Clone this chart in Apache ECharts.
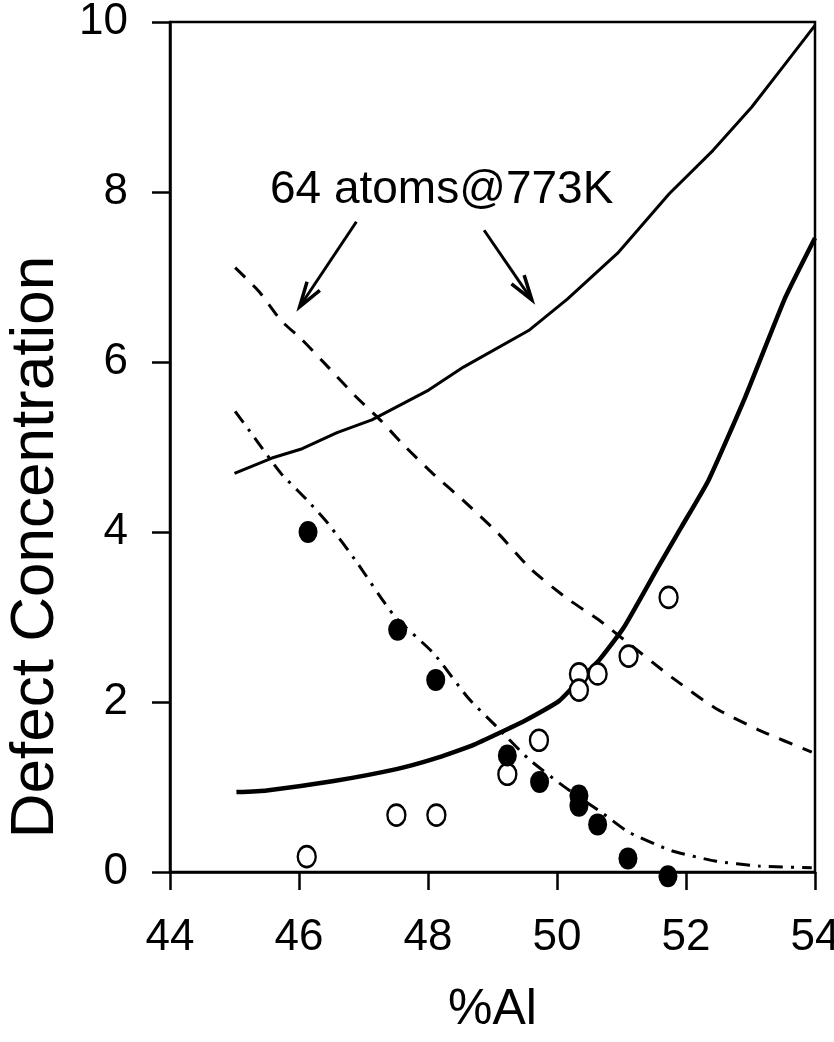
<!DOCTYPE html>
<html>
<head>
<meta charset="utf-8">
<script src="https://cdn.jsdelivr.net/npm/echarts@6/dist/echarts.min.js"></script>
<style>
  html, body { margin: 0; padding: 0; background: #fff; }
  #chart { width: 834px; height: 1042px; }
</style>
</head>
<body>
<div id="chart"></div>
<script>
// values
var xTicks = [44, 46, 48, 50, 52, 54]
var yTicks = [0, 2, 4, 6, 8, 10]

// solid curve, upper (64 atoms @ 773K)
var upperSolidX = [45.0, 45.58, 46.05, 46.59, 47.13, 48.01, 48.55, 49.56, 50.16, 50.94, 51.74, 52.42, 53.02, 53.5, 54.0]
var upperSolidY = [4.69, 4.87, 4.98, 5.17, 5.32, 5.67, 5.94, 6.37, 6.74, 7.28, 7.98, 8.49, 9.0, 9.47, 9.96]

// solid curve, lower (thick)
var lowerSolidX = [45.03, 45.5, 46.54, 47.51, 48.09, 48.69, 49.5, 50.03, 50.4, 50.65, 51.03, 51.57, 51.93, 52.35, 52.92, 53.54, 54.0]
var lowerSolidY = [0.94, 0.96, 1.07, 1.21, 1.33, 1.49, 1.78, 2.01, 2.3, 2.49, 2.87, 3.59, 4.06, 4.61, 5.59, 6.76, 7.46]

// dashed curve, upper
var upperDashX = [45.01, 45.38, 45.72, 46.05, 46.39, 46.86, 47.27, 47.6, 48.07, 48.55, 49.08, 49.6, 50.17, 50.64, 51.11, 51.78, 52.45, 53.13, 53.95]
var upperDashY = [7.11, 6.83, 6.49, 6.26, 5.99, 5.61, 5.31, 5.04, 4.69, 4.37, 3.99, 3.56, 3.21, 2.97, 2.69, 2.29, 1.93, 1.67, 1.41]

// dashed curve, lower
var lowerDashX = [45.01, 45.31, 45.72, 46.12, 46.45, 46.9, 47.48, 48.09, 48.62, 49.09, 49.56, 50.1, 50.71, 51.11, 51.78, 52.45, 53.13, 53.95]
var lowerDashY = [5.42, 5.11, 4.69, 4.38, 4.1, 3.64, 3.01, 2.57, 2.05, 1.69, 1.33, 1.01, 0.69, 0.47, 0.25, 0.13, 0.07, 0.05]

// measured points
var filledX = [46.14, 47.53, 48.12, 49.23, 49.73, 50.34, 50.34, 50.63, 51.1, 51.72]
var filledY = [4.0, 2.85, 2.26, 1.37, 1.06, 0.9, 0.78, 0.56, 0.16, -0.05]
var openX = [46.12, 47.51, 48.13, 49.23, 49.72, 50.34, 50.34, 50.63, 51.11, 51.73]
var openY = [0.18, 0.67, 0.67, 1.15, 1.55, 2.33, 2.14, 2.33, 2.54, 3.23]

// annotation: text anchor and arrows [tailX, tailY, headX, headY]
var noteText = '64 atoms@773K'
var notePos = [45.55, 8.02]
var arrows = [
  [46.89, 7.65, 46.01, 6.65],
  [48.87, 7.55, 49.61, 6.73]
]

var FONT = '"Liberation Sans", Arial, Helvetica, sans-serif'

function pairs(xs, ys) {
  return xs.map(function (x, i) { return [x, ys[i]] })
}

var myChart = echarts.init(document.getElementById('chart'))

var option = {
  backgroundColor: '#fff',
  animation: false,
  grid: {
    left: 170,
    right: 19,
    top: 22,
    bottom: 170,
    containLabel: false,
    outerBoundsMode: 'none',
    show: true,
    borderColor: '#000',
    borderWidth: 2.5
  },
  xAxis: {
    type: 'value',
    min: 44,
    max: 54,
    interval: 2,
    name: '%Al',
    nameLocation: 'middle',
    nameGap: 113,
    nameTextStyle: { fontFamily: FONT, fontSize: 50, color: '#000' },
    axisLine: { show: true, lineStyle: { color: '#000', width: 2.5 } },
    axisTick: { show: true, length: 18, lineStyle: { color: '#000', width: 2.5 } },
    axisLabel: {
      margin: 44,
      fontFamily: FONT,
      fontSize: 44,
      color: '#000',
      formatter: function (v) { return xTicks.indexOf(v) >= 0 ? String(v) : '' }
    },
    splitLine: { show: false }
  },
  yAxis: {
    type: 'value',
    min: 0,
    max: 10,
    interval: 2,
    name: 'Defect Concentration',
    nameLocation: 'middle',
    nameGap: 103,
    nameTextStyle: { fontFamily: FONT, fontSize: 62, color: '#000', padding: [0, 200, 0, 0] },
    axisLine: { show: true, lineStyle: { color: '#000', width: 2.5 } },
    axisTick: { show: true, length: 18, lineStyle: { color: '#000', width: 2.5 } },
    axisLabel: {
      margin: 42,
      fontFamily: FONT,
      fontSize: 44,
      color: '#000',
      formatter: function (v) { return yTicks.indexOf(v) >= 0 ? String(v) : '' }
    },
    splitLine: { show: false }
  },
  series: [
    {
      name: 'upper solid',
      type: 'line',
      data: pairs(upperSolidX, upperSolidY),
      showSymbol: false,
      smooth: false,
      lineStyle: { color: '#000', width: 3 }
    },
    {
      name: 'lower solid',
      type: 'line',
      data: pairs(lowerSolidX, lowerSolidY),
      showSymbol: false,
      smooth: 0.15,
      lineStyle: { color: '#000', width: 4.5 }
    },
    {
      name: 'upper dashed',
      type: 'line',
      data: pairs(upperDashX, upperDashY),
      showSymbol: false,
      smooth: 0.2,
      lineStyle: { color: '#000', width: 3, type: [14, 11] }
    },
    {
      name: 'lower dashed',
      type: 'line',
      data: pairs(lowerDashX, lowerDashY),
      showSymbol: false,
      smooth: 0.2,
      lineStyle: { color: '#000', width: 3, type: [14, 8, 3, 8] }
    },
    {
      name: 'open',
      type: 'scatter',
      clip: false,
      data: pairs(openX, openY),
      symbol: 'circle',
      symbolSize: [18, 21],
      itemStyle: { color: '#fff', borderColor: '#000', borderWidth: 2.5, opacity: 1 },
      z: 5
    },
    {
      name: 'filled',
      type: 'scatter',
      clip: false,
      data: pairs(filledX, filledY),
      symbol: 'circle',
      symbolSize: [19, 22],
      itemStyle: { color: '#000', opacity: 1 },
      z: 6
    }
  ]
}

myChart.setOption(option)

// annotation drawn in data coordinates
function annotate() {
  var els = []
  var tp = myChart.convertToPixel({ gridIndex: 0 }, notePos)
  els.push({
    type: 'text',
    x: tp[0],
    y: tp[1],
    style: {
      text: noteText,
      fontFamily: FONT,
      fontSize: 46,
      fill: '#000',
      verticalAlign: 'middle'
    },
    z: 10
  })
  arrows.forEach(function (a) {
    var t = myChart.convertToPixel({ gridIndex: 0 }, [a[0], a[1]])
    var h = myChart.convertToPixel({ gridIndex: 0 }, [a[2], a[3]])
    var ang = Math.atan2(h[1] - t[1], h[0] - t[0])
    var L = 26, spread = 0.3
    var p1 = [h[0] - L * Math.cos(ang - spread), h[1] - L * Math.sin(ang - spread)]
    var p2 = [h[0] - L * Math.cos(ang + spread), h[1] - L * Math.sin(ang + spread)]
    els.push({
      type: 'line',
      shape: { x1: t[0], y1: t[1], x2: h[0], y2: h[1] },
      style: { stroke: '#000', lineWidth: 3 },
      z: 10
    })
    els.push({
      type: 'polyline',
      shape: { points: [p1, h, p2] },
      style: { stroke: '#000', lineWidth: 3.5, fill: null },
      z: 10
    })
  })
  myChart.setOption({ graphic: els })
}
annotate()
</script>
</body>
</html>
